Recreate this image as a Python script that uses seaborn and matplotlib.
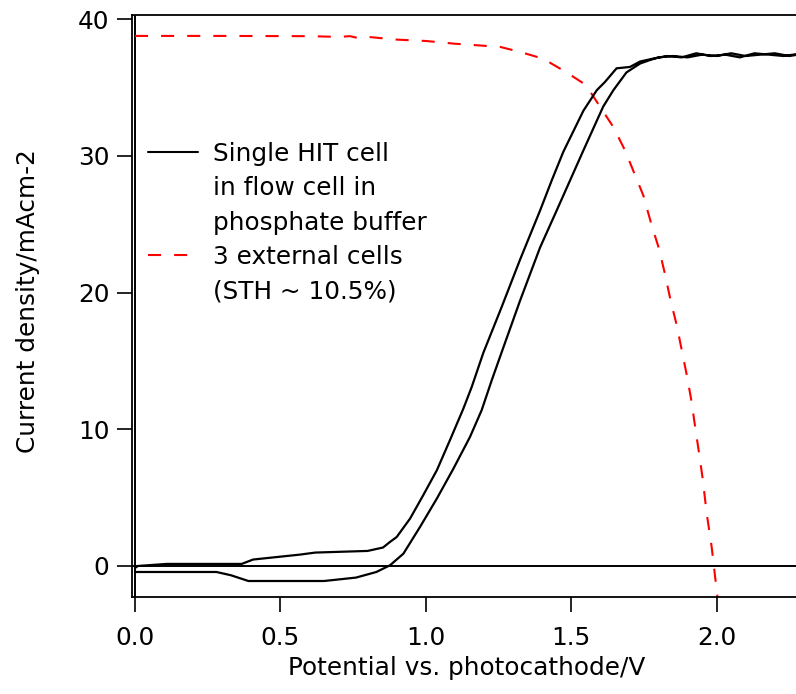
import matplotlib
matplotlib.use("Agg")
import matplotlib.pyplot as plt
from matplotlib.lines import Line2D
import seaborn as sns
import pandas as pd

# ---- data ----
# black hysteresis loop: branch A (lower at low bias, right-shifted when rising)
branch_a_x = [0.0, 0.28, 0.33, 0.39, 0.65, 0.76, 0.83, 0.877, 0.923, 0.98, 1.038, 1.095,
              1.152, 1.192, 1.227, 1.267, 1.324, 1.393, 1.45, 1.496, 1.542, 1.61, 1.645,
              1.69, 1.737, 1.77, 1.80, 1.85, 1.90, 1.95, 2.00, 2.05, 2.10, 2.15, 2.20, 2.25, 2.28]
branch_a_y = [-0.44, -0.44, -0.68, -1.1, -1.1, -0.85, -0.44, 0.05, 0.9, 2.85, 4.93, 7.12,
              9.44, 11.39, 13.6, 16.0, 19.4, 23.3, 26.0, 28.2, 30.4, 33.6, 34.8,
              36.1, 36.75, 37.0, 37.2, 37.3, 37.2, 37.4, 37.3, 37.5, 37.3, 37.4, 37.5, 37.3, 37.4]
# branch B (upper at low bias, left-shifted when rising)
branch_b_x = [0.0, 0.01, 0.11, 0.367, 0.406, 0.567, 0.62, 0.80, 0.853, 0.877, 0.90, 0.946,
              0.991, 1.038, 1.083, 1.129, 1.158, 1.198, 1.261, 1.324, 1.393, 1.433, 1.473,
              1.542, 1.588, 1.616, 1.656, 1.702, 1.737, 1.78, 1.83, 1.88, 1.93, 1.98, 2.03,
              2.08, 2.13, 2.18, 2.23, 2.28]
branch_b_y = [-0.15, 0.0, 0.15, 0.15, 0.47, 0.83, 0.98, 1.1, 1.35, 1.76, 2.12, 3.47,
              5.17, 7.0, 9.2, 11.5, 13.1, 15.6, 18.95, 22.4, 26.0, 28.2, 30.3,
              33.3, 34.8, 35.4, 36.4, 36.5, 36.9, 37.1, 37.3, 37.2, 37.5, 37.3, 37.4,
              37.2, 37.5, 37.4, 37.3, 37.45]
# red dashed: 3 external cells
ext_x = [0.0, 0.30, 0.60, 0.70, 0.74, 0.77, 0.80, 0.85, 0.90, 1.00, 1.10, 1.20, 1.255,
         1.324, 1.404, 1.484, 1.542, 1.565, 1.599, 1.645, 1.685, 1.748, 1.777, 1.802,
         1.823, 1.842, 1.863, 1.880, 1.899, 1.914, 1.926, 1.939, 1.952, 1.966, 1.983, 2.003]
ext_y = [38.77, 38.77, 38.75, 38.7, 38.75, 38.6, 38.7, 38.6, 38.5, 38.4, 38.2, 38.05, 37.97,
         37.6, 37.1, 36.1, 35.3, 34.7, 33.6, 32.1, 30.4, 27.1, 24.9, 23.2,
         21.3, 19.4, 17.6, 15.8, 13.8, 12.0, 10.2, 8.34, 6.4, 3.83, 1.39, -2.3]

x_ticks = [0.0, 0.5, 1.0, 1.5, 2.0]
x_tick_labels = ["0.0", "0.5", "1.0", "1.5", "2.0"]
y_ticks = [0, 10, 20, 30, 40]
y_tick_labels = ["0", "10", "20", "30", "40"]
legend_lines = ["Single HIT cell", "in flow cell in", "phosphate buffer",
                "3 external cells", "(STH ~ 10.5%)"]

# ---- figure ----
sns.set_style("ticks")
plt.rcParams["font.family"] = ["DejaVu Sans"]
plt.rcParams["text.color"] = "black"
plt.rcParams["axes.labelcolor"] = "black"
plt.rcParams["lines.scale_dashes"] = False
FS = 17.8

loop_df = pd.DataFrame({
    "x": branch_a_x + branch_b_x[::-1],
    "y": branch_a_y + branch_b_y[::-1],
})
ext_df = pd.DataFrame({"x": ext_x, "y": ext_y})

fig = plt.figure(figsize=(7.96, 6.94), dpi=100)
ax = fig.add_axes([131.5 / 796, (694 - 597) / 694, (796 - 131.5) / 796, (597 - 15) / 694])

ax.axhline(0, color="black", lw=1.4, zorder=1)
ax.axvline(0, color="black", lw=1.4, zorder=1)

sns.lineplot(data=loop_df, x="x", y="y", sort=False, estimator=None, color="black",
             lw=1.6, ax=ax, zorder=3)
sns.lineplot(data=ext_df, x="x", y="y", sort=False, estimator=None, color="#ff0000",
             lw=1.5, dashes=False, ax=ax, zorder=2)
ax.lines[-1].set_dashes((9.4, 9.4))

ax.set_xlim(-0.012, 2.273)
ax.set_ylim(-2.27, 40.3)
ax.set_xticks(x_ticks)
ax.set_xticklabels(x_tick_labels)
ax.set_yticks(y_ticks)
ax.set_yticklabels(y_tick_labels)
ax.tick_params(axis="both", direction="out", length=11, width=1.2, labelsize=FS,
               color="black", labelcolor="black")
ax.tick_params(axis="x", pad=10)
ax.tick_params(axis="y", pad=5)

for side in ["left", "bottom", "top"]:
    ax.spines[side].set_linewidth(1.3)
    ax.spines[side].set_color("black")
ax.spines["right"].set_visible(False)

ax.set_xlabel("Potential vs. photocathode/V", fontsize=FS, color="black")
ax.set_ylabel("Current density/mAcm-2", fontsize=FS, color="black")
ax.xaxis.set_label_coords(0.505, -0.101)
ax.yaxis.set_label_coords(-0.138, 0.509)

blank = Line2D([], [], color="none")
handles = [Line2D([], [], color="black", lw=1.5), blank, blank,
           Line2D([], [], color="#ff0000", lw=1.5, dashes=(9.4, 9.4)), blank]
ax.legend(handles, legend_lines, loc="upper left",
          bbox_to_anchor=(148 / 796, (694 - 142) / 694), bbox_transform=fig.transFigure,
          frameon=False, fontsize=FS, borderpad=0, borderaxespad=0,
          handlelength=2.02, handletextpad=0.6, labelspacing=0.42)

fig.savefig("out.png", dpi=100)
